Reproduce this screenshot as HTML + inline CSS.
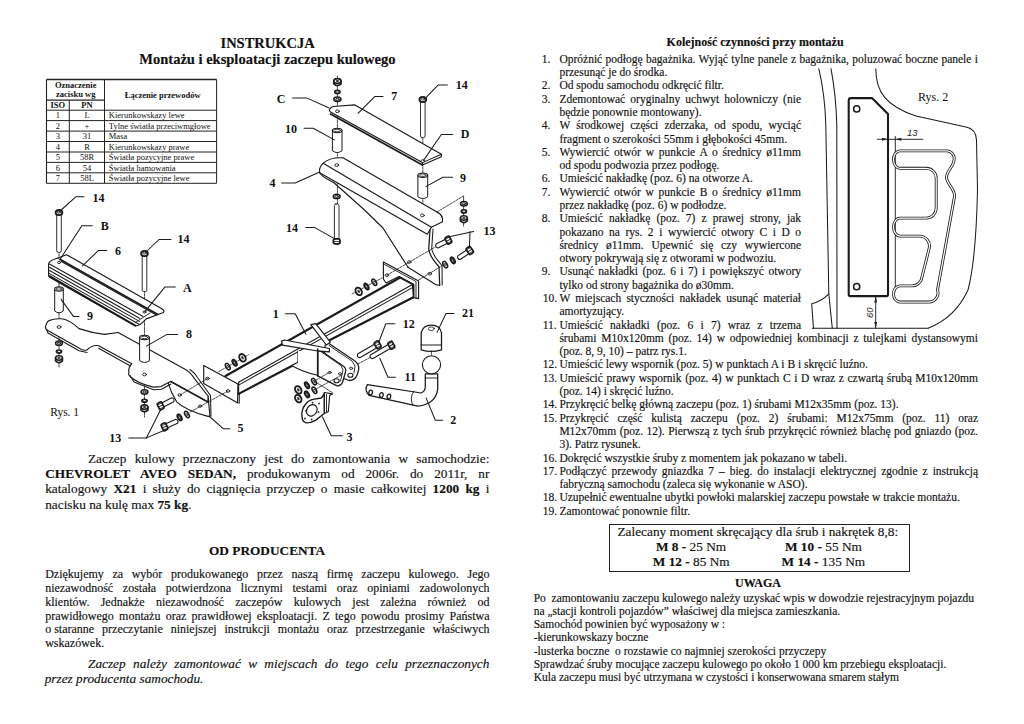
<!DOCTYPE html>
<html><head><meta charset="utf-8"><style>
html,body{margin:0;padding:0;background:#fff;}
body{width:1024px;height:724px;position:relative;overflow:hidden;font-family:"Liberation Serif",serif;color:#111;}
.l{position:absolute;white-space:pre;line-height:0;-webkit-text-stroke:0.15px #111;}
b{font-weight:bold}
</style></head><body>
<svg width="1024" height="724" style="position:absolute;left:0;top:0" font-family="Liberation Serif" stroke="#222"><line x1="46.5" y1="79.5" x2="216.6" y2="79.5" stroke-width="1.3"/><line x1="46.5" y1="100.1" x2="104.5" y2="100.1" stroke-width="1.1"/><line x1="46.5" y1="110.2" x2="216.6" y2="110.2" stroke-width="1"/><line x1="46.5" y1="120.6" x2="216.6" y2="120.6" stroke-width="1"/><line x1="46.5" y1="131.1" x2="216.6" y2="131.1" stroke-width="1"/><line x1="46.5" y1="141.5" x2="216.6" y2="141.5" stroke-width="1"/><line x1="46.5" y1="152.0" x2="216.6" y2="152.0" stroke-width="1"/><line x1="46.5" y1="162.4" x2="216.6" y2="162.4" stroke-width="1"/><line x1="46.5" y1="172.8" x2="216.6" y2="172.8" stroke-width="1"/><line x1="46.5" y1="183.3" x2="216.6" y2="183.3" stroke-width="1"/><line x1="46.5" y1="79.5" x2="46.5" y2="183.3" stroke-width="1.1"/><line x1="216.6" y1="79.5" x2="216.6" y2="183.3" stroke-width="1"/><line x1="104.5" y1="79.5" x2="104.5" y2="183.3" stroke-width="1"/><line x1="69.3" y1="100.1" x2="69.3" y2="183.3" stroke-width="1"/><text x="75.7" y="87.7" font-size="8.5" font-weight="bold" text-anchor="middle" fill="#111" stroke="none">Oznaczenie</text><text x="75.7" y="97.0" font-size="8.5" font-weight="bold" text-anchor="middle" fill="#111" stroke="none">zacisku wg</text><text x="57.9" y="107.5" font-size="8.5" font-weight="bold" text-anchor="middle" fill="#111" stroke="none">ISO</text><text x="87.0" y="107.5" font-size="8.5" font-weight="bold" text-anchor="middle" fill="#111" stroke="none">PN</text><text x="162.7" y="97.9" font-size="8.5" font-weight="bold" text-anchor="middle" fill="#111" stroke="none">Łączenie przewodów</text><text x="57.9" y="118.3" font-size="8.5" font-weight="normal" text-anchor="middle" fill="#111" stroke="none">1</text><text x="87.0" y="118.3" font-size="8.5" font-weight="normal" text-anchor="middle" fill="#111" stroke="none">L</text><text x="108.8" y="118.3" font-size="8.5" font-weight="normal" text-anchor="start" fill="#111" stroke="none">Kierunkowskazy lewe</text><text x="57.9" y="128.7" font-size="8.5" font-weight="normal" text-anchor="middle" fill="#111" stroke="none">2</text><text x="87.0" y="128.7" font-size="8.5" font-weight="normal" text-anchor="middle" fill="#111" stroke="none">+</text><text x="108.8" y="128.7" font-size="8.5" font-weight="normal" text-anchor="start" fill="#111" stroke="none">Tylne światła przeciwmgłowe</text><text x="57.9" y="139.2" font-size="8.5" font-weight="normal" text-anchor="middle" fill="#111" stroke="none">3</text><text x="87.0" y="139.2" font-size="8.5" font-weight="normal" text-anchor="middle" fill="#111" stroke="none">31</text><text x="108.8" y="139.2" font-size="8.5" font-weight="normal" text-anchor="start" fill="#111" stroke="none">Masa</text><text x="57.9" y="149.6" font-size="8.5" font-weight="normal" text-anchor="middle" fill="#111" stroke="none">4</text><text x="87.0" y="149.6" font-size="8.5" font-weight="normal" text-anchor="middle" fill="#111" stroke="none">R</text><text x="108.8" y="149.6" font-size="8.5" font-weight="normal" text-anchor="start" fill="#111" stroke="none">Kierunkowskazy prawe</text><text x="57.9" y="160.1" font-size="8.5" font-weight="normal" text-anchor="middle" fill="#111" stroke="none">5</text><text x="87.0" y="160.1" font-size="8.5" font-weight="normal" text-anchor="middle" fill="#111" stroke="none">58R</text><text x="108.8" y="160.1" font-size="8.5" font-weight="normal" text-anchor="start" fill="#111" stroke="none">Światła pozycyjne prawe</text><text x="57.9" y="170.5" font-size="8.5" font-weight="normal" text-anchor="middle" fill="#111" stroke="none">6</text><text x="87.0" y="170.5" font-size="8.5" font-weight="normal" text-anchor="middle" fill="#111" stroke="none">54</text><text x="108.8" y="170.5" font-size="8.5" font-weight="normal" text-anchor="start" fill="#111" stroke="none">Światła hamowania</text><text x="57.9" y="180.9" font-size="8.5" font-weight="normal" text-anchor="middle" fill="#111" stroke="none">7</text><text x="87.0" y="180.9" font-size="8.5" font-weight="normal" text-anchor="middle" fill="#111" stroke="none">58L</text><text x="108.8" y="180.9" font-size="8.5" font-weight="normal" text-anchor="start" fill="#111" stroke="none">Światła pozycyjne lewe</text></svg>
<svg width="1024" height="724" style="position:absolute;left:0;top:0" font-family="Liberation Serif" fill="#111" stroke="#1a1a1a" stroke-linecap="round" stroke-linejoin="round">
<g fill="none"><line x1="337.4" y1="76.0" x2="337.4" y2="246.0" stroke-width="0.8" stroke-dasharray="2.5,1.2"/>
<line x1="422.8" y1="137.0" x2="422.8" y2="215.0" stroke-width="0.8" stroke-dasharray="2.5,1.2"/>
<line x1="59.0" y1="250.0" x2="59.0" y2="367.0" stroke-width="0.8" stroke-dasharray="2.5,1.2"/>
<line x1="144.5" y1="290.0" x2="144.5" y2="417.0" stroke-width="0.8" stroke-dasharray="2.5,1.2"/>
<path d="M333,106.5 L354.9,104.9 L441.4,154.3 L441.4,156.8 L422.4,165 L422.4,162.6 L330.5,112 Q327.5,109.5 333,106.5 Z" stroke-width="1.15" fill="#fff" />
<path d="M330.5,114.0 L422.4,165.0" stroke-width="1.72" />
<path d="M422.4,162.6 L441.4,154.3" stroke-width="1.03" />
<ellipse cx="337.4" cy="111.3" rx="1.9" ry="1.4" fill="#fff" stroke-width="0.9"/>
<ellipse cx="422.8" cy="161.1" rx="1.9" ry="1.4" fill="#fff" stroke-width="0.9"/>
<path d="M333.7,182.5 L364.5,210 L383,228 L408,267.3 L435.6,284.6 L439.7,285.3 L439,266.7 Q430,255 428.7,249.4 L430,230 L427.3,234.2 Z" stroke-width="0.00" fill="#fff" stroke="none"/>
<path d="M333.7,182.5 L364.5,210.0 L383.0,228.0 L408.0,267.3" stroke-width="1.15" />
<path d="M408.0,267.3 L435.6,284.6 L439.7,285.3" stroke-width="1.15" />
<path d="M343.4,157.9 L437,212.1 Q443.5,215 442.5,221.8 L431.4,227.3 L427.3,234.2 L319.7,172.8 Q318.5,168 323.2,163.2 Q330,157 343.4,157.9 Z" stroke-width="1.15" fill="#fff" />
<path d="M323.2,163.2 L431.4,227.3" stroke-width="1.15" />
<path d="M319.7,172.8 Q322,177 333.7,182.5" stroke-width="1.15" fill="none" />
<path d="M430,230 L428.7,249.4 Q430,257 439,266.7 L439.7,285.3" stroke-width="1.26" fill="none" />
<path d="M433,229 L431.7,249 Q433,255.5 442,265.5 L442.2,285" stroke-width="1.03" fill="none" />
<ellipse cx="336.7" cy="165.1" rx="1.9" ry="1.4" fill="#fff" stroke-width="0.9"/>
<ellipse cx="422.4" cy="215.4" rx="1.9" ry="1.4" fill="#fff" stroke-width="0.9"/>
<ellipse cx="409.3" cy="262.0" rx="1.8" ry="1.3" fill="#fff" stroke-width="0.9"/>
<ellipse cx="429.8" cy="273.7" rx="1.8" ry="1.3" fill="#fff" stroke-width="0.9"/>
<path d="M66.6,254.8 L161.9,308.75 Q165,311 163.4,312.5 L146.25,318.9 Q140,326 135.3,325.9 L50,277.5 Q48.6,276.7 48.6,275 L48.6,264 Q49,261 55,259 Z" stroke-width="1.15" fill="#fff" />
<path d="M49.5,267.3 L139.5,318.2" stroke-width="1.03" />
<path d="M49.5,270.5 L139.5,321.4" stroke-width="1.03" />
<path d="M49.5,273.6 L139.5,324.5" stroke-width="1.03" />
<path d="M49.5,264.0 L143.0,316.5" stroke-width="1.03" />
<path d="M60.3,259.5 L158.0,314.5" stroke-width="1.49" />
<path d="M61.5,261.5 L156.0,314.8" stroke-width="1.26" />
<path d="M58.0,258.5 L66.0,262.5" stroke-width="0.92" />
<path d="M49.5,276.2 L135.3,325.5" stroke-width="1.95" />
<path d="M135.3,322.5 L150.0,313.0" stroke-width="0.92" />
<ellipse cx="59.0" cy="262.5" rx="1.6" ry="1.1" fill="#fff" stroke-width="0.9"/>
<ellipse cx="144.5" cy="312.0" rx="1.6" ry="1.1" fill="#fff" stroke-width="0.9"/>
<path d="M170.9,381.3 L208,401.8 L208,396 L210,416.4 L208,416.4 Q185,410 176.7,401.8 Q171,393 168,382.3 Z" stroke-width="1.15" fill="#fff" />
<path d="M170.9,381.3 L208.0,401.8" stroke-width="1.95" />
<ellipse cx="179.6" cy="395.0" rx="1.7" ry="1.2" fill="#fff" stroke-width="0.9"/>
<ellipse cx="200.2" cy="406.1" rx="1.7" ry="1.2" fill="#fff" stroke-width="0.9"/>
<path d="M45.5,326.6 Q47,319.8 51.7,319.8 Q56,318.5 61.5,318.8 Q70,320 79,328.6 Q92,333 104.5,334.4 L118.1,332.5 L185.5,369.6 Q190,372 194.3,378.4 L208,396 L208,401.8 L170.9,381.3 L161.1,386.6 L153.3,387.1 Q140,384 133.75,379.3 Q127,375 128.9,372.5 Q128,367 131.8,363.7 L98.6,345.7 Q92,344.5 86.9,350 Q83,351 79,348.1 L47.8,330.5 Q45,329 45.5,326.6 Z" stroke-width="1.15" fill="#fff" />
<path d="M46.5,329.5 L48.0,333.0 L79.0,350.8 L87.0,352.6" stroke-width="1.03" />
<path d="M190,369.5 Q195,373 197.5,377.5 L210.5,395.5 L211,416" stroke-width="1.03" fill="none" />
<path d="M98.6,348.3 L130.5,366.0" stroke-width="1.03" />
<path d="M130.0,375.5 L134.0,382.0 L153.5,389.8 L161.5,389.3 L170.9,384.0" stroke-width="1.03" />
<ellipse cx="59.0" cy="327.0" rx="1.9" ry="1.4" fill="#fff" stroke-width="0.9"/>
<ellipse cx="144.5" cy="374.5" rx="1.9" ry="1.4" fill="#fff" stroke-width="0.9"/>
<path d="M203.7,365.4 L237.9,384 L239.2,384.7 L239.2,403 L237.3,402.7 L203.7,383.4 Z" stroke-width="1.15" fill="#fff" />
<path d="M237.9,384.0 L237.5,402.7" stroke-width="1.03" />
<ellipse cx="207.5" cy="378.5" rx="1.8" ry="1.3" fill="#fff" stroke-width="0.9"/>
<ellipse cx="228.0" cy="391.0" rx="1.8" ry="1.3" fill="#fff" stroke-width="0.9"/>
<path d="M225.5,376 L399.7,277.7 L412.4,284.5 L413.4,297.2 L238.6,393.9 L238.6,382.2 Z" stroke-width="0.00" fill="#fff" stroke="none"/>
<path d="M225.5,376.0 L399.7,277.7" stroke-width="2.18" />
<path d="M238.6,382.2 L412.4,284.5" stroke-width="1.03" />
<path d="M238.6,385.1 L412.4,287.6" stroke-width="1.03" />
<path d="M238.6,393.9 L298.0,362.7" stroke-width="2.18" />
<path d="M329.4,340.2 L413.4,297.2" stroke-width="2.18" />
<path d="M399.7,277.7 L412.4,284.5 L413.4,297.2" stroke-width="1.15" />
<path d="M238.6,382.2 L238.6,393.9" stroke-width="1.15" />
<path d="M298.0,351.0 L298.0,362.7" stroke-width="1.15" />
<path d="M383.4,262 L418.6,281 L418.6,298.6 L413.7,297.6 L413.7,284.4 L399,276.6 L386,283 L383.4,279 Z" stroke-width="1.15" fill="#fff" />
<path d="M384.5,264.5 L416.0,281.5 L416.0,298.0" stroke-width="0.92" />
<path d="M399.0,276.6 L413.7,284.4 L413.7,297.6" stroke-width="1.15" />
<ellipse cx="386.9" cy="275.2" rx="1.8" ry="1.3" fill="#fff" stroke-width="0.9"/>
<path d="M292.2,365.9 Q305,372.5 317.7,375.3 L317.7,351 L298,351 L298,362.7 Z" stroke-width="0.00" fill="#fff" stroke="none"/>
<path d="M292.2,365.9 Q305,372.5 317.7,375.3" stroke-width="1.15" fill="none" />
<path d="M326,341.5 L354.6,360.7 Q359.5,364 358.7,369.5 L357.3,374.5 Q355,380.5 349,380.5 L340,377 L324,352 Z" stroke-width="1.26" fill="#fff" />
<path d="M329.0,345.5 L352.0,361.0 L355.0,366.0 L354.0,373.0" stroke-width="0.92" />
<path d="M310.8,324.6 L315.7,323.6 L330.4,342.1 L326.4,345 Z" stroke-width="1.15" fill="#fff" />
<path d="M317.7,348.5 L343.5,366.2 Q346.5,368.5 345.5,372 L342.5,382.5 Q340.5,386.5 336.5,385.6 L317.7,375.9 Z" stroke-width="1.26" fill="#fff" />
<path d="M320.0,351.0 L341.0,365.5 L343.0,370.0 L340.5,381.0" stroke-width="0.92" />
<path d="M281.5,341.2 L284.5,340 L329.4,348.5 L329.4,351.9 L317.7,351 L282.5,345.1 Z" stroke-width="1.26" fill="#fff" />
<path d="M317.7,349.0 L317.7,375.9" stroke-width="1.61" />
<ellipse cx="329.7" cy="372.5" rx="1.6" ry="1.1" fill="#fff" stroke-width="0.9"/>
<ellipse cx="340.0" cy="373.8" rx="1.6" ry="1.1" fill="#fff" stroke-width="0.9"/>
<ellipse cx="351.1" cy="368.3" rx="1.6" ry="1.1" fill="#fff" stroke-width="0.9"/>
<ellipse cx="336.6" cy="380.7" rx="2.6" ry="2" fill="#fff" stroke-width="1.1"/>
<ellipse cx="350.4" cy="375.2" rx="2.6" ry="2" fill="#fff" stroke-width="1.1"/>
<line x1="218.7" y1="371.6" x2="248.5" y2="354.8" stroke-width="0.8" stroke-dasharray="2.5,1.2"/>
<ellipse cx="227.8" cy="366.6" rx="1.9" ry="3.5" transform="rotate(-30.0 227.8 366.6)" fill="#fff" stroke-width="1.5"/>
<ellipse cx="227.8" cy="366.6" rx="0.8" ry="1.5" transform="rotate(-30.0 227.8 366.6)" fill="#fff" stroke-width="0.7"/>
<ellipse cx="234.6" cy="362.7" rx="1.9" ry="3.5" transform="rotate(-30.0 234.6 362.7)" fill="#444" stroke-width="1.5"/>
<ellipse cx="234.6" cy="362.7" rx="0.8" ry="1.5" transform="rotate(-30.0 234.6 362.7)" fill="#fff" stroke-width="0.7"/>
<ellipse cx="242.5" cy="357.8" rx="2.9" ry="4.0" transform="rotate(-30.0 242.5 357.8)" fill="#fff" stroke-width="1.9"/>
<ellipse cx="242.5" cy="357.8" rx="1.1" ry="1.8" transform="rotate(-30.0 242.5 357.8)" fill="#333" stroke="none"/>
<line x1="352.0" y1="294.0" x2="382.0" y2="278.0" stroke-width="0.8" stroke-dasharray="2.5,1.2"/>
<ellipse cx="358.7" cy="291.4" rx="2.9" ry="4.0" transform="rotate(-30.0 358.7 291.4)" fill="#fff" stroke-width="1.9"/>
<ellipse cx="358.7" cy="291.4" rx="1.1" ry="1.8" transform="rotate(-30.0 358.7 291.4)" fill="#333" stroke="none"/>
<ellipse cx="366.5" cy="286.5" rx="1.9" ry="3.5" transform="rotate(-30.0 366.5 286.5)" fill="#444" stroke-width="1.5"/>
<ellipse cx="366.5" cy="286.5" rx="0.8" ry="1.5" transform="rotate(-30.0 366.5 286.5)" fill="#fff" stroke-width="0.7"/>
<ellipse cx="374.3" cy="282.2" rx="1.9" ry="3.5" transform="rotate(-30.0 374.3 282.2)" fill="#fff" stroke-width="1.5"/>
<ellipse cx="374.3" cy="282.2" rx="0.8" ry="1.5" transform="rotate(-30.0 374.3 282.2)" fill="#fff" stroke-width="0.7"/>
<line x1="316.0" y1="380.0" x2="329.4" y2="372.4" stroke-width="0.8" stroke-dasharray="2.5,1.2"/>
<line x1="316.0" y1="389.0" x2="341.1" y2="375.3" stroke-width="0.8" stroke-dasharray="2.5,1.2"/>
<ellipse cx="298.3" cy="389.9" rx="2.9" ry="4.0" transform="rotate(-30.0 298.3 389.9)" fill="#fff" stroke-width="1.9"/>
<ellipse cx="298.3" cy="389.9" rx="1.1" ry="1.8" transform="rotate(-30.0 298.3 389.9)" fill="#333" stroke="none"/>
<ellipse cx="307.0" cy="385.3" rx="1.9" ry="3.5" transform="rotate(-30.0 307.0 385.3)" fill="#444" stroke-width="1.5"/>
<ellipse cx="307.0" cy="385.3" rx="0.8" ry="1.5" transform="rotate(-30.0 307.0 385.3)" fill="#fff" stroke-width="0.7"/>
<ellipse cx="314.0" cy="381.6" rx="1.9" ry="3.5" transform="rotate(-30.0 314.0 381.6)" fill="#fff" stroke-width="1.5"/>
<ellipse cx="314.0" cy="381.6" rx="0.8" ry="1.5" transform="rotate(-30.0 314.0 381.6)" fill="#fff" stroke-width="0.7"/>
<ellipse cx="298.3" cy="398.6" rx="2.9" ry="4.0" transform="rotate(-30.0 298.3 398.6)" fill="#fff" stroke-width="1.9"/>
<ellipse cx="298.3" cy="398.6" rx="1.1" ry="1.8" transform="rotate(-30.0 298.3 398.6)" fill="#333" stroke="none"/>
<ellipse cx="307.0" cy="394.4" rx="1.9" ry="3.5" transform="rotate(-30.0 307.0 394.4)" fill="#444" stroke-width="1.5"/>
<ellipse cx="307.0" cy="394.4" rx="0.8" ry="1.5" transform="rotate(-30.0 307.0 394.4)" fill="#fff" stroke-width="0.7"/>
<ellipse cx="314.4" cy="390.3" rx="1.9" ry="3.5" transform="rotate(-30.0 314.4 390.3)" fill="#fff" stroke-width="1.5"/>
<ellipse cx="314.4" cy="390.3" rx="0.8" ry="1.5" transform="rotate(-30.0 314.4 390.3)" fill="#fff" stroke-width="0.7"/>
<ellipse cx="59.0" cy="343.2" rx="3.4" ry="2.2" fill="#fff" stroke-width="1.5"/>
<ellipse cx="59.0" cy="343.2" rx="1.7" ry="1.0" fill="none" stroke-width="1"/>
<ellipse cx="59.0" cy="351.6" rx="2.8" ry="1.8" fill="#333" stroke-width="1.2"/>
<ellipse cx="59.0" cy="351.4" rx="1.2" ry="0.6" fill="#fff" stroke="none"/>
<path d="M55.6,358.0 L55.6,361.0 Q59.0,364.2 62.4,361.0 L62.4,358.0 Z" fill="#fff" stroke-width="1.7"/>
<ellipse cx="59.0" cy="358.0" rx="3.4" ry="2.2" fill="#fff" stroke-width="1.6"/>
<ellipse cx="59.0" cy="358.0" rx="1.7" ry="1.0" fill="#333" stroke="none"/>
<ellipse cx="144.5" cy="392.0" rx="3.4" ry="2.2" fill="#fff" stroke-width="1.5"/>
<ellipse cx="144.5" cy="392.0" rx="1.7" ry="1.0" fill="none" stroke-width="1"/>
<ellipse cx="144.5" cy="400.8" rx="2.8" ry="1.8" fill="#333" stroke-width="1.2"/>
<ellipse cx="144.5" cy="400.6" rx="1.2" ry="0.6" fill="#fff" stroke="none"/>
<path d="M141.1,407.1 L141.1,410.1 Q144.5,413.3 147.9,410.1 L147.9,407.1 Z" fill="#fff" stroke-width="1.7"/>
<ellipse cx="144.5" cy="407.1" rx="3.4" ry="2.2" fill="#fff" stroke-width="1.6"/>
<ellipse cx="144.5" cy="407.1" rx="1.7" ry="1.0" fill="#333" stroke="none"/>
<path d="M333.8,81.0 L333.8,84.0 Q337.4,87.4 341.0,84.0 L341.0,81.0 Z" fill="#fff" stroke-width="1.7"/>
<ellipse cx="337.4" cy="81.0" rx="3.6" ry="2.4" fill="#fff" stroke-width="1.6"/>
<ellipse cx="337.4" cy="81.0" rx="1.8" ry="1.1" fill="#333" stroke="none"/>
<ellipse cx="337.4" cy="92.0" rx="2.8" ry="1.8" fill="#333" stroke-width="1.2"/>
<ellipse cx="337.4" cy="91.8" rx="1.2" ry="0.6" fill="#fff" stroke="none"/>
<ellipse cx="337.4" cy="99.3" rx="3.6" ry="2.2" fill="#fff" stroke-width="1.5"/>
<ellipse cx="337.4" cy="99.3" rx="1.8" ry="1.0" fill="none" stroke-width="1"/>
<ellipse cx="336.7" cy="196.4" rx="3.4" ry="2.2" fill="#fff" stroke-width="1.5"/>
<ellipse cx="336.7" cy="196.4" rx="1.7" ry="1.0" fill="none" stroke-width="1"/>
<line x1="437.0" y1="212.0" x2="463.2" y2="196.2" stroke-width="0.8" stroke-dasharray="2.5,1.2"/>
<path d="M463.6,196.2 L463.6,226.0" stroke-width="0.80" />
<ellipse cx="463.9" cy="203.8" rx="3.4" ry="2.2" fill="#fff" stroke-width="1.5"/>
<ellipse cx="463.9" cy="203.8" rx="1.7" ry="1.0" fill="none" stroke-width="1"/>
<ellipse cx="463.9" cy="211.4" rx="2.8" ry="1.8" fill="#333" stroke-width="1.2"/>
<ellipse cx="463.9" cy="211.2" rx="1.2" ry="0.6" fill="#fff" stroke="none"/>
<path d="M460.5,218.0 L460.5,221.0 Q463.9,224.2 467.3,221.0 L467.3,218.0 Z" fill="#fff" stroke-width="1.7"/>
<ellipse cx="463.9" cy="218.0" rx="3.4" ry="2.2" fill="#fff" stroke-width="1.6"/>
<ellipse cx="463.9" cy="218.0" rx="1.7" ry="1.0" fill="#333" stroke="none"/>
<rect x="56.7" y="213.5" width="4.6" height="38.8" rx="1.5" fill="#fff" stroke-width="0.9"/>
<ellipse cx="59.0" cy="212.5" rx="3.4" ry="2.7" fill="#fff" stroke-width="1.8"/>
<ellipse cx="59.0" cy="212.0" rx="1.8" ry="1.1" fill="none" stroke-width="0.8"/>
<rect x="142.2" y="254.5" width="4.6" height="37.1" rx="1.5" fill="#fff" stroke-width="0.9"/>
<ellipse cx="144.5" cy="253.5" rx="3.4" ry="2.7" fill="#fff" stroke-width="1.8"/>
<ellipse cx="144.5" cy="253.0" rx="1.8" ry="1.1" fill="none" stroke-width="0.8"/>
<rect x="420.5" y="100.5" width="4.6" height="37.1" rx="1.5" fill="#fff" stroke-width="0.9"/>
<ellipse cx="422.8" cy="99.5" rx="3.4" ry="2.7" fill="#fff" stroke-width="1.8"/>
<ellipse cx="422.8" cy="99.0" rx="1.8" ry="1.1" fill="none" stroke-width="0.8"/>
<rect x="334.4" y="204.0" width="4.6" height="36.0" rx="1.5" fill="#fff" stroke-width="0.9"/>
<rect x="333.4" y="238.8" width="6.6" height="5" rx="1.8" fill="#fff" stroke-width="1.8"/>
<line x1="333.7" y1="241.5" x2="339.7" y2="241.5" stroke-width="0.8"/>
<path d="M54.7,289.0 L54.7,311.0 Q59.0,314.5 63.3,311.0 L63.3,289.0" fill="#fff" stroke-width="1"/>
<ellipse cx="59.0" cy="289.0" rx="4.3" ry="2.2" fill="#fff" stroke-width="1.1"/>
<ellipse cx="59.0" cy="289.0" rx="2.8" ry="1.2" fill="none" stroke-width="0.8"/>
<path d="M139.6,337.4 L139.6,360.7 Q144.5,364.2 149.4,360.7 L149.4,337.4" fill="#fff" stroke-width="1"/>
<ellipse cx="144.5" cy="337.4" rx="4.9" ry="2.2" fill="#fff" stroke-width="1.1"/>
<ellipse cx="144.5" cy="337.4" rx="3.4" ry="1.2" fill="none" stroke-width="0.8"/>
<path d="M332.4,130.5 L332.4,150.8 Q337.2,154.3 342.0,150.8 L342.0,130.5" fill="#fff" stroke-width="1"/>
<ellipse cx="337.2" cy="130.5" rx="4.8" ry="2.2" fill="#fff" stroke-width="1.1"/>
<ellipse cx="337.2" cy="130.5" rx="3.3" ry="1.2" fill="none" stroke-width="0.8"/>
<path d="M417.9,175.2 L417.9,196.8 Q422.8,200.3 427.7,196.8 L427.7,175.2" fill="#fff" stroke-width="1"/>
<ellipse cx="422.8" cy="175.2" rx="4.8" ry="2.2" fill="#fff" stroke-width="1.1"/>
<ellipse cx="422.8" cy="175.2" rx="3.3" ry="1.2" fill="none" stroke-width="0.8"/>
<line x1="180.0" y1="395.0" x2="207.5" y2="378.5" stroke-width="0.8" stroke-dasharray="2.5,1.2"/>
<line x1="190.0" y1="412.0" x2="228.0" y2="391.0" stroke-width="0.8" stroke-dasharray="2.5,1.2"/>
<path d="M162.1,407.7 L173.8,401.8 Q175.0,398.7 171.8,397.8 L160.1,403.7 Z" fill="#fff" stroke-width="1.1"/>
<rect x="158.1" y="402.1" width="5" height="7.2" rx="1.2" transform="rotate(-26.8 161.1 405.7)" fill="#fff" stroke-width="1.7"/>
<line x1="158.1" y1="405.7" x2="163.1" y2="405.7" transform="rotate(-26.8 161.1 405.7)" stroke-width="0.9"/>
<line x1="163.1" y1="403.5" x2="158.1" y2="403.5" transform="rotate(-26.8 161.1 405.7)" stroke-width="0.7"/>
<line x1="163.1" y1="407.9" x2="158.1" y2="407.9" transform="rotate(-26.8 161.1 405.7)" stroke-width="0.7"/>
<path d="M165.9,428.6 L177.6,423.3 Q179.0,420.3 175.8,419.3 L164.1,424.6 Z" fill="#fff" stroke-width="1.1"/>
<rect x="162.0" y="423.0" width="5" height="7.2" rx="1.2" transform="rotate(-24.4 165.0 426.6)" fill="#fff" stroke-width="1.7"/>
<line x1="162.0" y1="426.6" x2="167.0" y2="426.6" transform="rotate(-24.4 165.0 426.6)" stroke-width="0.9"/>
<line x1="167.0" y1="424.4" x2="162.0" y2="424.4" transform="rotate(-24.4 165.0 426.6)" stroke-width="0.7"/>
<line x1="167.0" y1="428.8" x2="162.0" y2="428.8" transform="rotate(-24.4 165.0 426.6)" stroke-width="0.7"/>
<ellipse cx="179.6" cy="417.4" rx="1.9" ry="3.5" transform="rotate(-30.0 179.6 417.4)" fill="#444" stroke-width="1.5"/>
<ellipse cx="179.6" cy="417.4" rx="0.8" ry="1.5" transform="rotate(-30.0 179.6 417.4)" fill="#fff" stroke-width="0.7"/>
<ellipse cx="186.9" cy="414.5" rx="1.9" ry="3.5" transform="rotate(-30.0 186.9 414.5)" fill="#fff" stroke-width="1.5"/>
<ellipse cx="186.9" cy="414.5" rx="0.8" ry="1.5" transform="rotate(-30.0 186.9 414.5)" fill="#fff" stroke-width="0.7"/>
<line x1="386.9" y1="275.2" x2="437.0" y2="246.0" stroke-width="0.8" stroke-dasharray="2.5,1.2"/>
<line x1="418.6" y1="280.0" x2="445.0" y2="264.0" stroke-width="0.8" stroke-dasharray="2.5,1.2"/>
<path d="M447.0,238.4 L436.0,244.0 Q434.8,247.1 438.0,248.0 L449.0,242.4 Z" fill="#fff" stroke-width="1.1"/>
<rect x="445.0" y="236.8" width="5" height="7.2" rx="1.2" transform="rotate(153.0 448.0 240.4)" fill="#fff" stroke-width="1.7"/>
<line x1="445.0" y1="240.4" x2="450.0" y2="240.4" transform="rotate(153.0 448.0 240.4)" stroke-width="0.9"/>
<line x1="450.0" y1="238.2" x2="445.0" y2="238.2" transform="rotate(153.0 448.0 240.4)" stroke-width="0.7"/>
<line x1="450.0" y1="242.6" x2="445.0" y2="242.6" transform="rotate(153.0 448.0 240.4)" stroke-width="0.7"/>
<path d="M468.2,249.0 L457.8,255.9 Q456.9,259.1 460.2,259.5 L470.6,252.6 Z" fill="#fff" stroke-width="1.1"/>
<rect x="466.4" y="247.2" width="5" height="7.2" rx="1.2" transform="rotate(146.4 469.4 250.8)" fill="#fff" stroke-width="1.7"/>
<line x1="466.4" y1="250.8" x2="471.4" y2="250.8" transform="rotate(146.4 469.4 250.8)" stroke-width="0.9"/>
<line x1="471.4" y1="248.6" x2="466.4" y2="248.6" transform="rotate(146.4 469.4 250.8)" stroke-width="0.7"/>
<line x1="471.4" y1="253.0" x2="466.4" y2="253.0" transform="rotate(146.4 469.4 250.8)" stroke-width="0.7"/>
<ellipse cx="452.8" cy="260.4" rx="1.9" ry="3.5" transform="rotate(-30.0 452.8 260.4)" fill="#444" stroke-width="1.5"/>
<ellipse cx="452.8" cy="260.4" rx="0.8" ry="1.5" transform="rotate(-30.0 452.8 260.4)" fill="#fff" stroke-width="0.7"/>
<ellipse cx="445.2" cy="264.6" rx="1.9" ry="3.5" transform="rotate(-30.0 445.2 264.6)" fill="#fff" stroke-width="1.5"/>
<ellipse cx="445.2" cy="264.6" rx="0.8" ry="1.5" transform="rotate(-30.0 445.2 264.6)" fill="#fff" stroke-width="0.7"/>
<line x1="358.0" y1="364.0" x2="371.0" y2="357.0" stroke-width="0.8" stroke-dasharray="2.5,1.2"/>
<path d="M376.1,343.2 L357.6,353.9 Q356.5,357.1 359.8,357.7 L378.3,347.0 Z" fill="#fff" stroke-width="1.1"/>
<rect x="374.2" y="341.5" width="5" height="7.2" rx="1.2" transform="rotate(150.0 377.2 345.1)" fill="#fff" stroke-width="1.7"/>
<line x1="374.2" y1="345.1" x2="379.2" y2="345.1" transform="rotate(150.0 377.2 345.1)" stroke-width="0.9"/>
<line x1="379.2" y1="342.9" x2="374.2" y2="342.9" transform="rotate(150.0 377.2 345.1)" stroke-width="0.7"/>
<line x1="379.2" y1="347.3" x2="374.2" y2="347.3" transform="rotate(150.0 377.2 345.1)" stroke-width="0.7"/>
<path d="M389.8,343.6 L370.3,354.9 Q369.2,358.1 372.5,358.7 L392.0,347.4 Z" fill="#fff" stroke-width="1.1"/>
<rect x="387.9" y="341.9" width="5" height="7.2" rx="1.2" transform="rotate(149.9 390.9 345.5)" fill="#fff" stroke-width="1.7"/>
<line x1="387.9" y1="345.5" x2="392.9" y2="345.5" transform="rotate(149.9 390.9 345.5)" stroke-width="0.9"/>
<line x1="392.9" y1="343.3" x2="387.9" y2="343.3" transform="rotate(149.9 390.9 345.5)" stroke-width="0.7"/>
<line x1="392.9" y1="347.7" x2="387.9" y2="347.7" transform="rotate(149.9 390.9 345.5)" stroke-width="0.7"/>
<line x1="314.0" y1="381.0" x2="333.0" y2="393.0" stroke-width="0.8" stroke-dasharray="2.5,1.2"/>
<path d="M324.2,392.5 L332.5,393.9 L329.7,395.2 L328.3,411.8 L324.2,413.5 Z" stroke-width="1.15" fill="#fff" />
<path d="M326.5,394.5 L326.5,412.5" stroke-width="0.92" />
<path d="M302.1,417.3 Q301,410 304.9,405 Q308,400.5 313.1,399.4 L321.4,398 L324.2,393.9 L324.2,413.5 L315.9,420.1 Q311,423 306.2,422.9 Q302,421.5 302.1,417.3 Z" stroke-width="1.38" fill="#fff" />
<ellipse cx="311.8" cy="410.4" rx="5" ry="6" transform="rotate(35 311.8 410.4)" fill="#fff" stroke-width="1.2"/>
<circle cx="312.6" cy="402.7" r="0.95" fill="#333" stroke="none"/>
<circle cx="319.0" cy="403.5" r="0.95" fill="#333" stroke="none"/>
<circle cx="306.0" cy="411.0" r="0.95" fill="#333" stroke="none"/>
<circle cx="311.6" cy="419.5" r="0.95" fill="#333" stroke="none"/>
<circle cx="318.5" cy="412.2" r="0.95" fill="#333" stroke="none"/>
<circle cx="305.0" cy="418.5" r="0.95" fill="#333" stroke="none"/>
<path d="M421.2,349.9 L421.2,333 Q423,325.2 431.2,325.2 Q440,325.2 441.5,333 L441.5,349.9 Q431,353 421.2,349.9 Z" stroke-width="1.26" fill="#fff" />
<path d="M421.2,344.9 L441.4,344.9" stroke-width="1.03" />
<ellipse cx="431.3" cy="328.7" rx="3" ry="1.8" fill="none" stroke-width="0.8"/>
<line x1="431.5" y1="351.0" x2="431.5" y2="356.0" stroke-width="0.8" stroke-dasharray="2.5,1.2"/>
<path d="M367.3,384.7 L421.2,393 Q425.3,391 425.3,387 L425.3,373.9 L437.7,373.9 L437.7,389 Q436,404 417.9,406.2 L369,395.4 Q364,390 367.3,384.7 Z" stroke-width="1.26" fill="#fff" />
<circle cx="431.5" cy="364.8" r="9.1" fill="#fff" stroke-width="1.1"/>
<path d="M425.3,378.0 L437.7,378.0" stroke-width="0.92" />
<path d="M412.9,405.4 Q409,398 414,391" stroke-width="0.92" fill="none" />
<ellipse cx="370.6" cy="392.5" rx="1.8" ry="2.4" transform="rotate(12 370.6 392.5)" fill="#fff" stroke-width="1.3"/>
<ellipse cx="381.4" cy="395.0" rx="1.8" ry="2.4" transform="rotate(12 381.4 395.0)" fill="#fff" stroke-width="1.3"/>
<ellipse cx="388.9" cy="396.6" rx="1.8" ry="2.4" transform="rotate(12 388.9 396.6)" fill="#fff" stroke-width="1.3"/>
<path d="M59.0,212.0 L75.7,196.8 L84.0,196.8" stroke-width="1.03" />
<path d="M59.7,259.9 L81.8,225.7 L92.4,225.7" stroke-width="1.03" />
<path d="M82.5,265.9 L98.5,250.4 L106.8,250.4" stroke-width="1.03" />
<path d="M145.0,253.0 L159.0,239.5 L171.0,239.5" stroke-width="1.03" />
<path d="M144.7,311.9 L165.0,286.9 L175.2,286.9" stroke-width="1.03" />
<path d="M61.1,299.4 L73.6,316.6 L79.0,316.6" stroke-width="1.03" />
<path d="M146.4,346.1 L167.0,334.4 L177.7,334.4" stroke-width="1.03" />
<path d="M161.0,409.0 L146.4,437.9" stroke-width="1.03" />
<path d="M165.0,430.0 L146.4,437.9" stroke-width="1.03" />
<path d="M128.9,437.9 L146.4,437.9" stroke-width="1.03" />
<path d="M209.0,416.0 L223.1,428.7 L229.8,428.7" stroke-width="1.03" />
<path d="M285.4,313.8 L295.2,313.8 L305.9,334.3" stroke-width="1.03" />
<path d="M322.5,417.0 L331.3,435.8 L342.4,435.8" stroke-width="1.03" />
<path d="M426.1,397.9 L435.3,420.3 L442.7,420.3" stroke-width="1.03" />
<path d="M379.8,358.2 L388.0,377.2 L395.5,377.2" stroke-width="1.03" />
<path d="M378.6,342.8 L385.8,323.7 L394.8,323.7" stroke-width="1.03" />
<path d="M437.0,332.4 L446.0,313.5 L454.0,313.5" stroke-width="1.03" />
<path d="M448.0,237.0 L473.6,231.4" stroke-width="1.03" />
<path d="M469.4,248.0 L470.0,231.4" stroke-width="1.03" />
<path d="M335.4,239.1 L314.7,227.6 L305.7,227.6" stroke-width="1.03" />
<path d="M319.6,172.0 L295.2,183.0 L281.7,183.0" stroke-width="1.03" />
<path d="M425.8,186.6 L442.9,177.3 L452.6,177.3" stroke-width="1.03" />
<path d="M423.5,160.4 L441.4,134.5 L452.8,134.5" stroke-width="1.03" />
<path d="M334.4,139.9 L313.2,128.2 L304.0,128.2" stroke-width="1.03" />
<path d="M329.1,108.0 L307.1,98.1 L292.6,98.1" stroke-width="1.03" />
<path d="M358.0,113.3 L374.7,96.6 L383.0,96.6" stroke-width="1.03" />
<path d="M424.7,98.9 L438.3,84.9 L447.4,84.9" stroke-width="1.03" />
<text x="92.4" y="201.8" font-size="12" font-weight="bold" fill="#111" stroke="none">14</text>
<text x="100.7" y="229.8" font-size="12" font-weight="bold" fill="#111" stroke="none">B</text>
<text x="114.9" y="254.5" font-size="12" font-weight="bold" fill="#111" stroke="none">6</text>
<text x="177.4" y="243.4" font-size="12" font-weight="bold" fill="#111" stroke="none">14</text>
<text x="183.0" y="291.6" font-size="12" font-weight="bold" fill="#111" stroke="none">A</text>
<text x="86.9" y="319.7" font-size="12" font-weight="bold" fill="#111" stroke="none">9</text>
<text x="186.0" y="338.3" font-size="12" font-weight="bold" fill="#111" stroke="none">8</text>
<text x="109.3" y="441.8" font-size="12" font-weight="bold" fill="#111" stroke="none">13</text>
<text x="237.5" y="432.4" font-size="12" font-weight="bold" fill="#111" stroke="none">5</text>
<text x="272.8" y="317.6" font-size="12" font-weight="bold" fill="#111" stroke="none">1</text>
<text x="346.6" y="441.3" font-size="12" font-weight="bold" fill="#111" stroke="none">3</text>
<text x="450.2" y="424.4" font-size="12" font-weight="bold" fill="#111" stroke="none">2</text>
<text x="404.6" y="380.5" font-size="12" font-weight="bold" fill="#111" stroke="none">11</text>
<text x="402.8" y="328.4" font-size="12" font-weight="bold" fill="#111" stroke="none">12</text>
<text x="462.1" y="317.1" font-size="12" font-weight="bold" fill="#111" stroke="none">21</text>
<text x="483.5" y="235.2" font-size="12" font-weight="bold" fill="#111" stroke="none">13</text>
<text x="286.1" y="231.8" font-size="12" font-weight="bold" fill="#111" stroke="none">14</text>
<text x="269.5" y="187.1" font-size="12" font-weight="bold" fill="#111" stroke="none">4</text>
<text x="460.0" y="181.7" font-size="12" font-weight="bold" fill="#111" stroke="none">9</text>
<text x="460.8" y="138.3" font-size="12" font-weight="bold" fill="#111" stroke="none">D</text>
<text x="285.0" y="132.6" font-size="12" font-weight="bold" fill="#111" stroke="none">10</text>
<text x="276.7" y="103.1" font-size="12" font-weight="bold" fill="#111" stroke="none">C</text>
<text x="391.3" y="100.4" font-size="12" font-weight="bold" fill="#111" stroke="none">7</text>
<text x="455.8" y="89.0" font-size="12" font-weight="bold" fill="#111" stroke="none">14</text>
<text x="50.2" y="416.4" font-size="11.5" font-weight="normal" fill="#111" stroke="none">Rys. 1</text>
<path d="M818.8,68.7 Q825,95 825.8,125 L828.8,293.8 L832.3,328.4" stroke-width="1.03" fill="none" />
<path d="M831,68.7 Q836,95 836.8,125 L837,328" stroke-width="1.03" fill="none" />
<path d="M875.8,68.7 C875.8,92 886,106 916,116 L966,127 Q976,129 976.5,140 L977.5,190 Q976,260 968,290 Q955,318 928,328.2" stroke-width="1.03" fill="none" />
<path d="M812.4,328.2 L928.0,328.2" stroke-width="1.03" />
<path d="M813.5,328.4 L811.7,303.7 Q822,301 828.8,293.8" stroke-width="1.03" fill="none" />
<path d="M851,98.1 L872,98.1 L888,114.1 L888,294.5 Q888,296.1 886.5,296.1 L850.3,296.1 Q848.7,296.1 848.7,294.5 L848.7,100.5 Q848.7,98.1 851,98.1 Z" stroke-width="2.07" fill="none" />
<circle cx="856.7" cy="108.9" r="3.1" fill="none" stroke-width="1.5"/>
<circle cx="856.7" cy="286.7" r="3.1" fill="none" stroke-width="1.5"/>
<path d="M877.3,139.3 L922.8,139.3" stroke-width="0.92" />
<path d="M895.3,136.5 L895.3,290.0" stroke-width="0.92" />
<path d="M888,139.3 L882,137.8 L882,140.8 Z M895.3,139.3 L901.3,137.8 L901.3,140.8 Z" fill="#222" stroke="none"/>
<text x="907" y="136" font-family="Liberation Sans" font-style="italic" font-size="9.5" fill="#222" stroke="none">13</text>
<path d="M875.7,296.5 L875.7,328.0" stroke-width="0.92" />
<path d="M875.7,296.5 L874.2,302.5 L877.2,302.5 Z M875.7,328 L874.2,322 L877.2,322 Z" fill="#222" stroke="none"/>
<text transform="translate(872.5,318) rotate(-90)" font-family="Liberation Sans" font-style="italic" font-size="9.5" fill="#222" stroke="none">60</text>
<path d="M900,150.9 L947,150.9 A7.5,7.5 0 0 1 954,160 C954,166 946.5,171 946.5,177.3 C946.5,184 954.6,188 954.6,196 L937.5,290 A9,9 0 0 1 929,302 L900,302 A6.5,8 0 0 1 900,285.9 L912,285.9 A10,10 0 0 0 922,277 L929,249 A10,10 0 0 0 919,236.1 L900,236.1 A6.5,9 0 0 1 900,218.1 L926,218.1 A10,10 0 0 0 936.2,208 L936.2,178 A10,10 0 0 0 926,168.3 L900,168.3 A6.5,8.7 0 0 1 900,150.9 Z" stroke-width="2.9" fill="none"/>
<path d="M900,150.9 L947,150.9 A7.5,7.5 0 0 1 954,160 C954,166 946.5,171 946.5,177.3 C946.5,184 954.6,188 954.6,196 L937.5,290 A9,9 0 0 1 929,302 L900,302 A6.5,8 0 0 1 900,285.9 L912,285.9 A10,10 0 0 0 922,277 L929,249 A10,10 0 0 0 919,236.1 L900,236.1 A6.5,9 0 0 1 900,218.1 L926,218.1 A10,10 0 0 0 936.2,208 L936.2,178 A10,10 0 0 0 926,168.3 L900,168.3 A6.5,8.7 0 0 1 900,150.9 Z" stroke-width="1.25" stroke="#fff" fill="none"/>
<text x="918.0" y="101.0" font-size="12" font-weight="normal" fill="#111" stroke="none">Rys. 2</text></g></svg>
<div class="l" style="left:220.50px;top:43.41px;font-size:14.50px;font-weight:bold">INSTRUKCJA</div>
<div class="l" style="left:139.30px;top:58.71px;font-size:14.50px;font-weight:bold">Montażu i eksploatacji zaczepu kulowego</div>
<div class="l" style="left:88.00px;top:458.91px;font-size:13.30px;word-spacing:4.970px">Zaczep kulowy przeznaczony jest do zamontowania w samochodzie:</div>
<div class="l" style="left:45.20px;top:474.16px;font-size:13.30px;word-spacing:7.558px"><b>CHEVROLET AVEO SEDAN,</b> produkowanym od 2006r. do 2011r, nr</div>
<div class="l" style="left:45.20px;top:489.41px;font-size:13.30px;word-spacing:2.922px">katalogowy <b>X21</b> i służy do ciągnięcia przyczep o masie całkowitej <b>1200 kg</b> i</div>
<div class="l" style="left:45.20px;top:504.66px;font-size:13.30px">nacisku na kulę max <b>75 kg</b>.</div>
<div class="l" style="left:209.00px;top:550.61px;font-size:13.30px;font-weight:bold">OD PRODUCENTA</div>
<div class="l" style="left:45.20px;top:574.05px;font-size:12.00px;word-spacing:5.605px">Dziękujemy za wybór produkowanego przez naszą firmę zaczepu kulowego. Jego</div>
<div class="l" style="left:45.20px;top:587.91px;font-size:12.00px;word-spacing:6.678px">niezawodność została potwierdzona licznymi testami oraz opiniami zadowolonych</div>
<div class="l" style="left:45.20px;top:601.77px;font-size:12.00px;word-spacing:8.278px">klientów. Jednakże niezawodność zaczepów kulowych jest zależna również od</div>
<div class="l" style="left:45.20px;top:615.63px;font-size:12.00px;word-spacing:2.266px">prawidłowego montażu oraz prawidłowej eksploatacji. Z tego powodu prosimy Państwa</div>
<div class="l" style="left:45.20px;top:629.49px;font-size:12.00px;word-spacing:4.923px">o<span style="word-spacing:0"> </span>staranne przeczytanie niniejszej instrukcji montażu oraz przestrzeganie właściwych</div>
<div class="l" style="left:45.20px;top:643.35px;font-size:12.00px">wskazówek.</div>
<div class="l" style="left:88.00px;top:663.51px;font-size:13.30px;font-style:italic;word-spacing:4.015px">Zaczep należy zamontować w miejscach do tego celu przeznaczonych</div>
<div class="l" style="left:44.70px;top:679.31px;font-size:13.30px;font-style:italic">przez producenta samochodu.</div>
<div class="l" style="left:666.60px;top:41.55px;font-size:12.00px;font-weight:bold">Kolejność czynności przy montażu</div>
<div class="l" style="left:541.80px;top:58.82px;font-size:11.50px">1.</div>
<div class="l" style="left:559.40px;top:58.82px;font-size:11.50px;word-spacing:0.487px">Opróżnić podłogę bagażnika. Wyjąć tylne panele z bagażnika, poluzować boczne panele i</div>
<div class="l" style="left:559.40px;top:72.11px;font-size:11.50px">przesunąć je do środka.</div>
<div class="l" style="left:541.80px;top:85.40px;font-size:11.50px">2.</div>
<div class="l" style="left:559.40px;top:85.40px;font-size:11.50px">Od spodu samochodu odkręcić filtr.</div>
<div class="l" style="left:541.80px;top:98.69px;font-size:11.50px">3.</div>
<div class="l" style="left:559.40px;top:98.69px;font-size:11.50px;word-spacing:2.275px">Zdemontować oryginalny uchwyt holowniczy (nie</div>
<div class="l" style="left:559.40px;top:111.98px;font-size:11.50px">będzie ponownie montowany).</div>
<div class="l" style="left:541.80px;top:125.27px;font-size:11.50px">4.</div>
<div class="l" style="left:559.40px;top:125.27px;font-size:11.50px;word-spacing:3.260px">W środkowej części zderzaka, od spodu, wyciąć</div>
<div class="l" style="left:559.40px;top:138.56px;font-size:11.50px">fragment o szerokości 55mm i głębokości 45mm.</div>
<div class="l" style="left:541.80px;top:151.85px;font-size:11.50px">5.</div>
<div class="l" style="left:559.40px;top:151.85px;font-size:11.50px;word-spacing:1.960px">Wywiercić otwór w punkcie A o średnicy ø11mm</div>
<div class="l" style="left:559.40px;top:165.14px;font-size:11.50px">od spodu podwozia przez podłogę.</div>
<div class="l" style="left:541.80px;top:178.43px;font-size:11.50px">6.</div>
<div class="l" style="left:559.40px;top:178.43px;font-size:11.50px">Umieścić nakładkę (poz. 6) na otworze A.</div>
<div class="l" style="left:541.80px;top:191.72px;font-size:11.50px">7.</div>
<div class="l" style="left:559.40px;top:191.72px;font-size:11.50px;word-spacing:1.870px">Wywiercić otwór w punkcie B o średnicy ø11mm</div>
<div class="l" style="left:559.40px;top:205.01px;font-size:11.50px">przez nakładkę (poz. 6) w podłodze.</div>
<div class="l" style="left:541.80px;top:218.30px;font-size:11.50px">8.</div>
<div class="l" style="left:559.40px;top:218.30px;font-size:11.50px;word-spacing:3.189px">Umieścić nakładkę (poz. 7) z prawej strony, jak</div>
<div class="l" style="left:559.40px;top:231.59px;font-size:11.50px;word-spacing:2.666px">pokazano na rys. 2 i wywiercić otwory C i D o</div>
<div class="l" style="left:559.40px;top:244.88px;font-size:11.50px;word-spacing:4.846px">średnicy ø11mm. Upewnić się czy wywiercone</div>
<div class="l" style="left:559.40px;top:258.17px;font-size:11.50px">otwory pokrywają się z otworami w podwoziu.</div>
<div class="l" style="left:541.80px;top:271.46px;font-size:11.50px">9.</div>
<div class="l" style="left:559.40px;top:271.46px;font-size:11.50px;word-spacing:1.577px">Usunąć nakładki (poz. 6 i 7) i powiększyć otwory</div>
<div class="l" style="left:559.40px;top:284.75px;font-size:11.50px">tylko od strony bagażnika do ø30mm.</div>
<div class="l" style="left:542.80px;top:298.04px;font-size:11.50px">10.</div>
<div class="l" style="left:559.40px;top:298.04px;font-size:11.50px;word-spacing:2.315px">W miejscach styczności nakładek usunąć materiał</div>
<div class="l" style="left:559.40px;top:311.33px;font-size:11.50px">amortyzujący.</div>
<div class="l" style="left:542.80px;top:324.62px;font-size:11.50px">11.</div>
<div class="l" style="left:559.40px;top:324.62px;font-size:11.50px;word-spacing:4.375px">Umieścić nakładki (poz. 6 i 7) wraz z trzema</div>
<div class="l" style="left:559.40px;top:337.91px;font-size:11.50px;word-spacing:1.865px">śrubami M10x120mm (poz. 14) w odpowiedniej kombinacji z tulejkami dystansowymi</div>
<div class="l" style="left:559.40px;top:351.20px;font-size:11.50px">(poz. 8, 9, 10) – patrz rys.1.</div>
<div class="l" style="left:542.80px;top:364.49px;font-size:11.50px">12.</div>
<div class="l" style="left:559.40px;top:364.49px;font-size:11.50px">Umieścić lewy wspornik (poz. 5) w punktach A i B i skręcić luźno.</div>
<div class="l" style="left:542.80px;top:377.78px;font-size:11.50px">13.</div>
<div class="l" style="left:559.40px;top:377.78px;font-size:11.50px;word-spacing:0.724px">Umieścić prawy wspornik (poz. 4) w punktach C i D wraz z czwartą śrubą M10x120mm</div>
<div class="l" style="left:559.40px;top:391.07px;font-size:11.50px">(poz. 14) i skręcić luźno.</div>
<div class="l" style="left:542.80px;top:404.36px;font-size:11.50px">14.</div>
<div class="l" style="left:559.40px;top:404.36px;font-size:11.50px">Przykręcić belkę główną zaczepu (poz. 1) śrubami M12x35mm (poz. 13).</div>
<div class="l" style="left:542.80px;top:417.65px;font-size:11.50px">15.</div>
<div class="l" style="left:559.40px;top:417.65px;font-size:11.50px;word-spacing:6.010px">Przykręcić część kulistą zaczepu (poz. 2) śrubami: M12x75mm (poz. 11) oraz</div>
<div class="l" style="left:559.40px;top:430.94px;font-size:11.50px;word-spacing:0.580px">M12x70mm (poz. 12). Pierwszą z tych śrub przykręcić również blachę pod gniazdo (poz.</div>
<div class="l" style="left:559.40px;top:444.23px;font-size:11.50px">3). Patrz rysunek.</div>
<div class="l" style="left:542.80px;top:457.52px;font-size:11.50px">16.</div>
<div class="l" style="left:559.40px;top:457.52px;font-size:11.50px">Dokręcić wszystkie śruby z momentem jak pokazano w tabeli.</div>
<div class="l" style="left:542.80px;top:470.81px;font-size:11.50px">17.</div>
<div class="l" style="left:559.40px;top:470.81px;font-size:11.50px;word-spacing:2.057px">Podłączyć przewody gniazdka 7 – bieg. do instalacji elektrycznej zgodnie z instrukcją</div>
<div class="l" style="left:559.40px;top:484.10px;font-size:11.50px">fabryczną samochodu (zaleca się wykonanie w ASO).</div>
<div class="l" style="left:542.80px;top:497.39px;font-size:11.50px">18.</div>
<div class="l" style="left:559.40px;top:497.39px;font-size:11.50px">Uzupełnić ewentualne ubytki powłoki malarskiej zaczepu powstałe w trakcie montażu.</div>
<div class="l" style="left:542.80px;top:510.68px;font-size:11.50px">19.</div>
<div class="l" style="left:559.40px;top:510.68px;font-size:11.50px">Zamontować ponownie filtr.</div>
<div class="l" style="left:617.50px;top:532.41px;font-size:13.30px">Zalecany moment skręcający dla śrub i nakrętek 8,8:</div>
<div class="l" style="left:656.00px;top:546.76px;font-size:13.30px"><b>M 8 -</b> 25 Nm</div>
<div class="l" style="left:785.00px;top:546.76px;font-size:13.30px"><b>M 10 -</b> 55 Nm</div>
<div class="l" style="left:652.80px;top:562.11px;font-size:13.30px"><b>M 12 -</b> 85 Nm</div>
<div class="l" style="left:781.60px;top:562.11px;font-size:13.30px"><b>M 14 -</b> 135 Nm</div>
<div style="position:absolute;left:608.5px;top:523.5px;width:299px;height:46px;border:1px solid #222"></div>
<div class="l" style="left:735.00px;top:583.45px;font-size:12.00px;font-weight:bold">UWAGA</div>
<div class="l" style="left:533.70px;top:597.82px;font-size:11.50px">Po  zamontowaniu zaczepu kulowego należy uzyskać wpis w dowodzie rejestracyjnym pojazdu</div>
<div class="l" style="left:533.70px;top:611.00px;font-size:11.50px">na „stacji kontroli pojazdów” właściwej dla miejsca zamieszkania.</div>
<div class="l" style="left:533.70px;top:624.18px;font-size:11.50px">Samochód powinien być wyposażony w :</div>
<div class="l" style="left:533.70px;top:637.36px;font-size:11.50px">-kierunkowskazy boczne</div>
<div class="l" style="left:533.70px;top:650.54px;font-size:11.50px">-lusterka boczne  o rozstawie co najmniej szerokości przyczepy</div>
<div class="l" style="left:533.70px;top:663.72px;font-size:11.50px">Sprawdzać śruby mocujące zaczepu kulowego po około 1 000 km przebiegu eksploatacji.</div>
<div class="l" style="left:533.70px;top:676.90px;font-size:11.50px">Kula zaczepu musi być utrzymana w czystości i konserwowana smarem stałym</div>
</body></html>
